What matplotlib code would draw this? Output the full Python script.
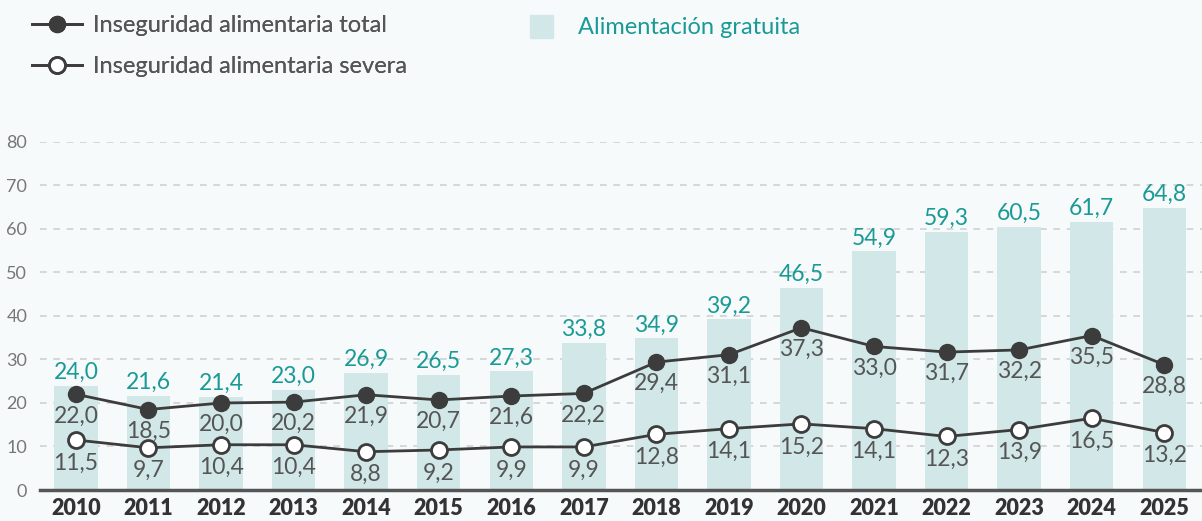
import matplotlib.pyplot as plt
from matplotlib.lines import Line2D
from matplotlib.patches import Patch

years = [2010, 2011, 2012, 2013, 2014, 2015, 2016, 2017,
         2018, 2019, 2020, 2021, 2022, 2023, 2024, 2025]
gratuita = [24.0, 21.6, 21.4, 23.0, 26.9, 26.5, 27.3, 33.8,
            34.9, 39.2, 46.5, 54.9, 59.3, 60.5, 61.7, 64.8]
total = [22.0, 18.5, 20.0, 20.2, 21.9, 20.7, 21.6, 22.2,
         29.4, 31.1, 37.3, 33.0, 31.7, 32.2, 35.5, 28.8]
severa = [11.5, 9.7, 10.4, 10.4, 8.8, 9.2, 9.9, 9.9,
          12.8, 14.1, 15.2, 14.1, 12.3, 13.9, 16.5, 13.2]

bg = "#f7fafb"
bar_c = "#d2e8e8"
teal = "#1a9a96"
dark = "#3c3c3c"
txt = "#555555"

plt.rcParams['font.family'] = ['Lato', 'DejaVu Sans']

fig = plt.figure(figsize=(12.02, 5.21), dpi=100, facecolor=bg)
ax = fig.add_axes([0.033, 0.0595, 0.967, 0.668], facecolor=bg)

x = list(range(len(years)))
fmt = lambda v: f"{v:.1f}".replace(".", ",")

ax.bar(x, gratuita, width=0.6, color=bar_c, zorder=1)
ax.plot(x, total, color=dark, lw=2, marker='o', ms=11.5,
        mfc=dark, mec=dark, zorder=3)
ax.plot(x, severa, color=dark, lw=2, marker='o', ms=11.5,
        mfc='white', mec=dark, mew=2, zorder=3)

for i in x:
    ax.annotate(fmt(gratuita[i]), (i, gratuita[i]), xytext=(0, 2),
                textcoords='offset points', ha='center', va='bottom',
                color=teal, fontsize=16.5)
    ax.annotate(fmt(total[i]), (i, total[i]), xytext=(0, -8),
                textcoords='offset points', ha='center', va='top',
                color=txt, fontsize=16.5)
    ax.annotate(fmt(severa[i]), (i, severa[i]), xytext=(0, -9),
                textcoords='offset points', ha='center', va='top',
                color=txt, fontsize=16.5)

ax.set_xlim(-0.5, 15.52)
ax.set_ylim(0, 80)
ax.set_yticks(range(0, 81, 10))
ax.set_xticks(x)
ax.set_xticklabels(years, fontweight='heavy', fontsize=15.5, color="#333333")
ax.tick_params(axis='y', length=0, labelsize=13, labelcolor="#777777", pad=9)
ax.tick_params(axis='x', length=0, pad=6)
ax.grid(axis='y', color="#d0d0d0", linestyle=(0, (4, 4)), lw=1.2, zorder=0)
ax.set_axisbelow(True)
for s in ['top', 'right', 'left']:
    ax.spines[s].set_visible(False)
ax.spines['bottom'].set_color("#555555")
ax.spines['bottom'].set_linewidth(2.5)
ax.spines['bottom'].set_zorder(4)

h1 = Line2D([], [], color=dark, lw=2, marker='o', ms=11.5, mfc=dark, mec=dark)
h2 = Line2D([], [], color=dark, lw=2, marker='o', ms=11.5, mfc='white',
            mec=dark, mew=2)
leg1 = fig.legend([h1, h2], ["Inseguridad alimentaria total",
                             "Inseguridad alimentaria severa"],
                  loc='upper left', bbox_to_anchor=(0.009, 1.012), frameon=False,
                  fontsize=17, labelcolor=txt, handlelength=2.1,
                  handletextpad=0.5, labelspacing=0.85)
fig.add_artist(leg1)
fig.legend([Patch(color=bar_c)], ["Alimentación gratuita"],
           loc='upper left', bbox_to_anchor=(0.4235, 1.012), frameon=False,
           fontsize=17, labelcolor=teal, handlelength=0.95, handleheight=1.1,
           handletextpad=1.05)

fig.savefig("out.png", dpi=100, facecolor=bg)
